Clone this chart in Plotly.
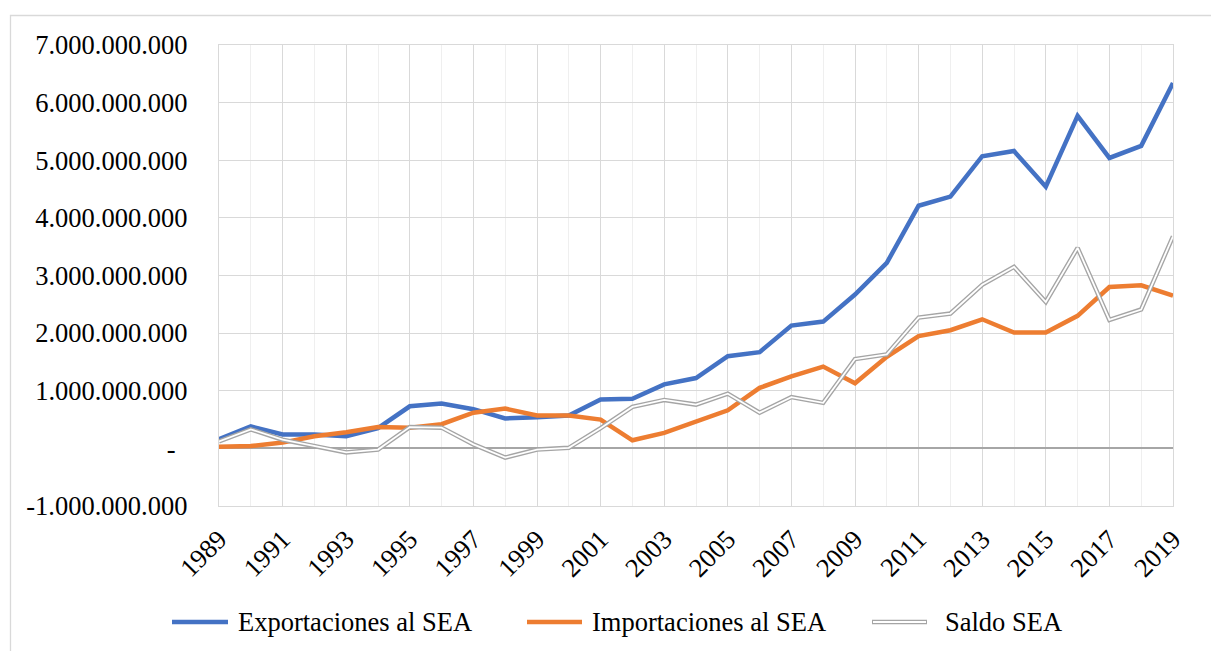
import plotly.graph_objects as go

years = list(range(1989, 2020))

exportaciones = [0.16, 0.38, 0.24, 0.24, 0.21, 0.35, 0.73, 0.78, 0.68, 0.52,
                 0.54, 0.57, 0.85, 0.86, 1.11, 1.22, 1.60, 1.67, 2.13, 2.20,
                 2.67, 3.22, 4.21, 4.37, 5.07, 5.16, 4.54, 5.77, 5.04, 5.25, 6.34]
importaciones = [0.03, 0.04, 0.10, 0.21, 0.28, 0.37, 0.36, 0.42, 0.62, 0.69,
                 0.57, 0.57, 0.50, 0.14, 0.27, 0.47, 0.66, 1.05, 1.25, 1.42,
                 1.13, 1.59, 1.95, 2.05, 2.24, 2.01, 2.01, 2.30, 2.80, 2.83, 2.65]
saldo = [0.12, 0.33, 0.15, 0.04, -0.07, -0.02, 0.37, 0.36, 0.07, -0.16,
         -0.02, 0.01, 0.35, 0.72, 0.84, 0.76, 0.95, 0.62, 0.89, 0.79,
         1.55, 1.63, 2.27, 2.34, 2.84, 3.15, 2.54, 3.48, 2.23, 2.41, 3.68]

exportaciones = [v * 1e9 for v in exportaciones]
importaciones = [v * 1e9 for v in importaciones]
saldo = [v * 1e9 for v in saldo]

ytick_vals = [-1e9, 0, 1e9, 2e9, 3e9, 4e9, 5e9, 6e9, 7e9]
ytick_text = ["-1.000.000.000", "-\u00a0\u2009", "1.000.000.000", "2.000.000.000",
              "3.000.000.000", "4.000.000.000", "5.000.000.000", "6.000.000.000",
              "7.000.000.000"]
xtick_vals = list(range(1989, 2020, 2))
xtick_text = [str(y) for y in xtick_vals]

series_names = ["Exportaciones al SEA", "Importaciones al SEA", "Saldo SEA"]
BLUE = "#4472C4"
ORANGE = "#ED7D31"
GRAY = "#A5A5A5"
FONT = "Liberation Serif"
FS = 26.5

W, H = 1211, 651
ML, MR, MT, MB = 219, 38, 45, 145
PW, PH = W - ML - MR, H - MT - MB


def px_x(p):
    return (p - ML) / PW


def px_y(p):
    return (H - MB - p) / PH


fig = go.Figure()
fig.add_trace(go.Scatter(x=years, y=exportaciones, mode="lines", name=series_names[0],
                         line=dict(color=BLUE, width=4.5), showlegend=False))
fig.add_trace(go.Scatter(x=years, y=importaciones, mode="lines", name=series_names[1],
                         line=dict(color=ORANGE, width=4.5), showlegend=False))
fig.add_trace(go.Scatter(x=years, y=saldo, mode="lines", name=series_names[2],
                         line=dict(color=GRAY, width=4.5), showlegend=False))
fig.add_trace(go.Scatter(x=years, y=saldo, mode="lines", name=series_names[2] + " (inner)",
                         line=dict(color="white", width=1.8), showlegend=False,
                         hoverinfo="skip"))

shapes = []
annotations = []
# outer chart border
shapes.append(dict(type="rect", xref="paper", yref="paper",
                   x0=px_x(10.5), x1=px_x(1225), y0=px_y(15.5), y1=px_y(670),
                   line=dict(color="#D9D9D9", width=1.3), fillcolor="rgba(0,0,0,0)", layer="below"))

# manual legend
legend_y = px_y(622)
legend_items = [(172, 228, 236, BLUE, False), (527, 582, 590, ORANGE, False), (872, 927, 943, GRAY, True)]
for (x0, x1, xt, col, double), name in zip(legend_items, series_names):
    shapes.append(dict(type="line", xref="paper", yref="paper",
                       x0=px_x(x0), x1=px_x(x1), y0=legend_y, y1=legend_y,
                       line=dict(color=col, width=4.5)))
    if double:
        shapes.append(dict(type="line", xref="paper", yref="paper",
                           x0=px_x(x0 + 1), x1=px_x(x1 - 1), y0=legend_y, y1=legend_y,
                           line=dict(color="white", width=1.8)))
    annotations.append(dict(text=name, xref="paper", yref="paper", x=px_x(xt), y=legend_y,
                            xanchor="left", yanchor="middle", showarrow=False,
                            font=dict(family=FONT, size=FS, color="black")))

fig.update_layout(
    width=W, height=H,
    margin=dict(l=ML, r=MR, t=MT, b=MB),
    paper_bgcolor="white", plot_bgcolor="white",
    font=dict(family=FONT, size=FS, color="black"),
    showlegend=False,
    shapes=shapes,
    annotations=annotations,
    xaxis=dict(range=[1989, 2019], tickvals=xtick_vals, ticktext=xtick_text,
               tickangle=-45, showgrid=True, gridcolor="#D9D9D9", gridwidth=1.4,
               minor=dict(dtick=1, tick0=1989, showgrid=True, gridcolor="#EFEFEF", gridwidth=1.4),
               showline=True, linecolor="#D9D9D9", linewidth=1.4, mirror=True,
               zeroline=False, ticks="", ticklabelstandoff=6,
               tickfont=dict(family=FONT, size=FS, color="black")),
    yaxis=dict(range=[-1e9, 7e9], tickvals=ytick_vals, ticktext=ytick_text,
               showgrid=True, gridcolor="#D9D9D9", gridwidth=1.4,
               zeroline=True, zerolinecolor="#A6A6A6", zerolinewidth=1.6,
               showline=True, linecolor="#D9D9D9", linewidth=1.4, mirror=True,
               ticks="", ticklabelstandoff=25,
               tickfont=dict(family=FONT, size=FS, color="black")),
)

fig.write_html("out.html", config={"displayModeBar": False},
               post_script="document.body.style.margin='0';document.body.style.overflow='hidden';")
